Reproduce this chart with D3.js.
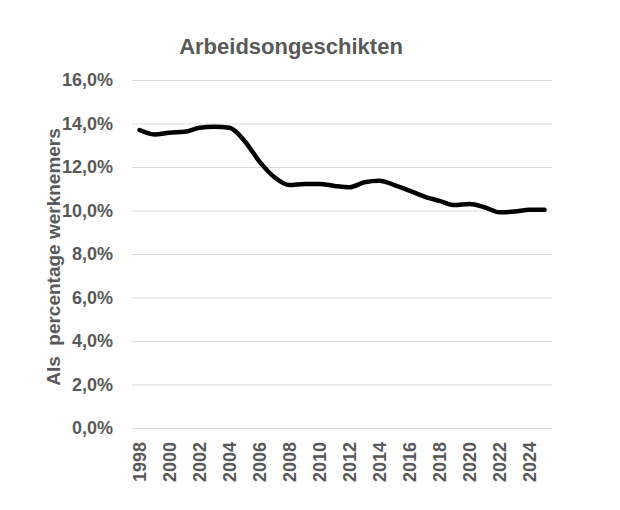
<!DOCTYPE html>
<html>
<head>
<meta charset="utf-8">
<script src="https://cdn.jsdelivr.net/npm/d3@7"></script>
<style>
  body { margin: 0; background: #fff; }
  text { font-family: "Liberation Sans", Arial, sans-serif; font-weight: bold; fill: #595959; }
</style>
</head>
<body>
<svg id="chart" width="620" height="510"></svg>
<script>
"use strict";
var years = d3.range(1998, 2026).map(String);
var values = [13.7, 13.5, 13.58, 13.62, 13.8, 13.85, 13.8, 13.2, 12.25, 11.53,
              11.17, 11.22, 11.22, 11.13, 11.07, 11.3, 11.37, 11.17, 10.91, 10.64,
              10.44, 10.25, 10.3, 10.15, 9.92, 9.95, 10.04, 10.03];
var yTicks = [0, 2, 4, 6, 8, 10, 12, 14, 16];
var xTickLabels = years.filter(function(d, i) { return i % 2 === 0; });

var svg = d3.select("#chart");
var plotLeft = 132, plotRight = 552, plotTop = 80, plotBottom = 428;

var x = d3.scaleBand().domain(years).range([plotLeft, plotRight]);
var y = d3.scaleLinear().domain([0, 16]).range([plotBottom, plotTop]);

// gridlines + y labels
var yAxis = d3.axisLeft(y)
    .tickValues(yTicks)
    .tickSize(-(plotRight - plotLeft))
    .tickPadding(19)
    .tickFormat(function(d) { return d3.format(".1f")(d).replace(".", ",") + "%"; });

var gy = svg.append("g").attr("transform", "translate(" + plotLeft + ",0)").call(yAxis);
gy.select(".domain").remove();
gy.selectAll("line").attr("stroke", "#d9d9d9").attr("stroke-width", 1);
gy.selectAll("text").style("font-size", "18px").attr("fill", "#595959");

// x labels
var xAxis = d3.axisBottom(x).tickValues(xTickLabels).tickSize(0).tickPadding(0);
var gx = svg.append("g").attr("transform", "translate(0," + plotBottom + ")").call(xAxis);
gx.select(".domain").remove();
gx.selectAll("text")
    .style("font-size", "18px")
    .attr("fill", "#595959")
    .attr("transform", "rotate(-90)")
    .attr("x", -14)
    .attr("y", 0)
    .attr("dy", "0.35em")
    .style("text-anchor", "end");

// line
var line = d3.line()
    .x(function(d, i) { return x(years[i]) + x.bandwidth() / 2; })
    .y(function(d) { return y(d); })
    .curve(d3.curveMonotoneX);

svg.append("path")
    .datum(values)
    .attr("fill", "none")
    .attr("stroke", "#000")
    .attr("stroke-width", 4.5)
    .attr("stroke-linejoin", "round")
    .attr("stroke-linecap", "round")
    .attr("d", line);

// title
svg.append("text")
    .attr("x", 291)
    .attr("y", 54)
    .attr("text-anchor", "middle")
    .style("font-size", "22px")
    .text("Arbeidsongeschikten");

// y title
svg.append("text")
    .attr("transform", "translate(60,257) rotate(-90)")
    .attr("text-anchor", "middle")
    .style("font-size", "19px")
    .style("white-space", "pre")
    .text("Als  percentage werknemers");
</script>
</body>
</html>
